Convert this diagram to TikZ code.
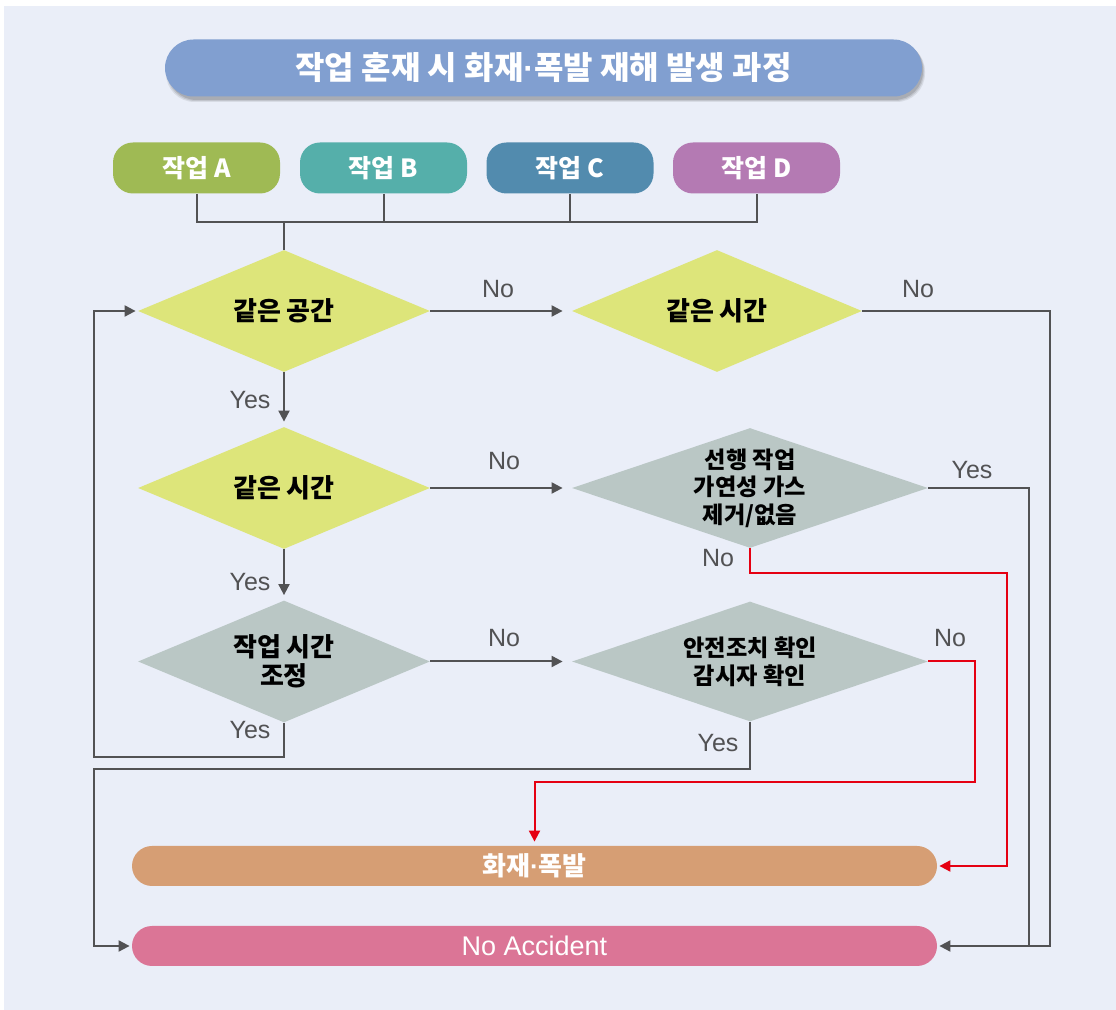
\documentclass[tikz,border=0pt]{standalone}
\usepackage{fontspec}
\setmainfont{Noto Sans CJK KR}
\newfontfamily\lat{Liberation Sans}
\usetikzlibrary{shapes.geometric,arrows.meta}
\definecolor{bgc}{HTML}{EAEEF8}
\definecolor{titlec}{HTML}{819FD0}
\definecolor{ca}{HTML}{9FBA54}
\definecolor{cb}{HTML}{55AFAA}
\definecolor{cc}{HTML}{528BAE}
\definecolor{cd}{HTML}{B47AB3}
\definecolor{yel}{HTML}{DDE57A}
\definecolor{gry}{HTML}{BAC7C5}
\definecolor{firec}{HTML}{D69E74}
\definecolor{nac}{HTML}{DB7596}
\definecolor{linec}{HTML}{525254}
\definecolor{redc}{HTML}{E50012}
\newcommand{\mdot}{{\lat\bfseries ·}}
\tikzset{
  workbox/.style={rounded corners=10pt, minimum width=83.5pt, minimum height=25.5pt, inner sep=0pt, text=white, font=\fontsize{12.5}{14}\selectfont\bfseries},
  dia/.style={diamond, aspect=2.4, inner sep=0pt, minimum width=146pt, minimum height=61pt, align=center, font=\fontsize{13}{14.5}\selectfont\bfseries},
  diawide/.style={dia, aspect=2.95, minimum width=178pt, minimum height=60pt, font=\fontsize{11.6}{13.8}\selectfont\bfseries},
  bar/.style={rounded corners=10pt, minimum width=402.5pt, minimum height=20pt, inner sep=0pt, text=white},
  conn/.style={draw=linec, line width=1pt},
  arr/.style={conn, -{Triangle[length=5.5pt,width=5.5pt]}, shorten >=1pt},
  redarr/.style={draw=redc, line width=1pt, -{Triangle[length=5.5pt,width=5.5pt]}, shorten >=1pt},
  lbl/.style={text=linec, font=\lat\fontsize{12.5}{14}\selectfont},
  titleshadow/.style={fill=black, rounded corners=14.25pt}
}
\begin{document}
\begin{tikzpicture}[x=0.5pt,y=-0.5pt]
\fill[white] (0,0) rectangle (1116,1010);
\fill[bgc] (4,6) rectangle (1116,1010);
\useasboundingbox (0,0) rectangle (1116,1010);

% title shadow (soft, bottom-right)
\fill[titleshadow, opacity=0.08] (166,43) rectangle (925,102);
\fill[titleshadow, opacity=0.10] (167,42) rectangle (924,101);
\fill[titleshadow, opacity=0.12] (168,41) rectangle (923,100);
% title
\node[fill=titlec, rounded corners=14.25pt, minimum width=378.5pt, minimum height=28.5pt, inner sep=0pt, text=white,
  font=\fontsize{16}{18}\selectfont\bfseries] (title) at (543.5,68) {작업 혼재 시 화재\mdot 폭발 재해 발생 과정};

% work boxes
\node[workbox, fill=ca] (wa) at (196.5,168) {작업 A};
\node[workbox, fill=cb] (wb) at (383.5,168) {작업 B};
\node[workbox, fill=cc] (wc) at (570,168) {작업 C};
\node[workbox, fill=cd] (wd) at (756.5,168) {작업 D};

% diamonds
\node[dia, fill=yel] (d1) at (284,311) {같은 공간};
\node[dia, fill=yel, minimum width=145pt] (d2) at (717,311) {같은 시간};
\node[dia, fill=yel] (d3) at (284,488) {같은 시간};
\node[diawide, fill=gry] (d4) at (750,488) {선행 작업\\가연성 가스\\제거/없음};
\node[dia, fill=gry] (d5) at (284,661.5) {작업 시간\\조정};
\node[diawide, fill=gry] (d6) at (750,661.5) {안전조치 확인\\감시자 확인};

% result bars
\node[bar, fill=firec, font=\fontsize{13}{14}\selectfont\bfseries] (fire) at (534.5,866) {화재\mdot 폭발};
\node[bar, fill=nac, font=\lat\fontsize{13.5}{14}\selectfont] (na) at (534.5,946) {No Accident};

% joins from work boxes
\coordinate (j) at (284,222);
\draw[conn] (wa.south) |- (j) -| (wd.south);
\draw[conn] (wb.south) -- (wb.south |- j);
\draw[conn] (wc.south) -- (wc.south |- j);
\draw[conn] (j) -- (d1.north);

% main flow
\draw[arr, shorten >=4.5pt] (d1.east) -- (d2.west);
\node[lbl] at (498,289) {No};
\draw[arr, shorten >=2.5pt] (d1.south) -- (d3.north);
\node[lbl] at (250,400) {Yes};
\draw[arr, shorten >=4.5pt] (d3.east) -- (d4.west);
\node[lbl] at (504,461) {No};
\draw[arr, shorten >=2.5pt] (d3.south) -- (d5.north);
\node[lbl] at (250,582) {Yes};
\draw[arr, shorten >=4.5pt] (d5.east) -- (d6.west);
\node[lbl] at (504,638) {No};

% loop back from d5
\coordinate (lp) at (94,757);
\draw[arr] (d5.south) |- (lp) |- (d1.west);
\node[lbl] at (250,730) {Yes};

% d2 No -> No Accident
\coordinate (r2) at (1050,946);
\draw[arr] (d2.east) -| (r2) -- (na.east);
\node[lbl] at (918,289) {No};

% d4 Yes joins
\coordinate (r4) at (1029,946);
\draw[conn] (d4.east) -| (r4);
\node[lbl] at (972,470) {Yes};

% d4 No -> fire (red)
\coordinate (k4) at (1007,573);
\draw[redarr] (d4.south) |- (k4) |- (fire.east);
\node[lbl] at (718,558) {No};

% d6 No -> fire (red)
\coordinate (k6) at (975,782);
\draw[redarr, shorten >=2pt] (d6.east) -| (k6) -| (fire.north);
\node[lbl] at (950,638) {No};

% d6 Yes -> No Accident
\coordinate (k7) at (94,769);
\draw[arr] (d6.south) |- (k7) |- (na.west);
\node[lbl] at (718,743) {Yes};
\end{tikzpicture}
\end{document}
